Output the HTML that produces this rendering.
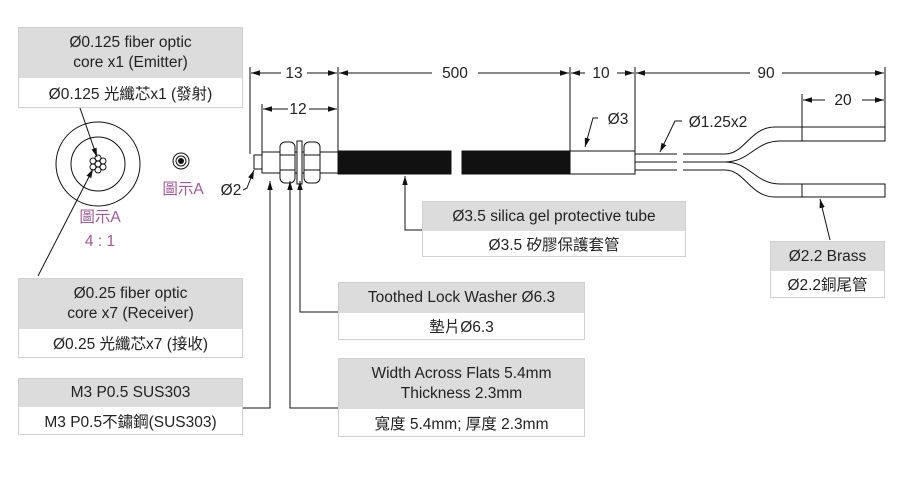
<!DOCTYPE html>
<html><head><meta charset="utf-8"><style>
body{margin:0;background:#fff;}
svg text{font-family:"Liberation Sans","Noto Sans CJK TC",sans-serif;fill:#222;}
.b{position:absolute;border:1px solid #d0d0d0;font-family:"Liberation Sans","Noto Sans CJK TC",sans-serif;font-size:15.5px;color:#222;text-align:center;box-sizing:border-box;overflow:hidden;}
.g{background:#dcdcdc;display:flex;flex-direction:column;justify-content:center;line-height:20px;}
.w{background:#fff;display:flex;align-items:center;justify-content:center;}
</style></head><body>
<div style="position:relative;width:900px;height:491px;overflow:hidden;">
<svg width="900" height="491" style="position:absolute;left:0;top:0">
<defs><marker id="a" viewBox="0 0 10 10" refX="10" refY="5" markerWidth="9" markerHeight="9" orient="auto-start-reverse"><path d="M0,2 L10,5 L0,8z" fill="#111"/></marker></defs>
<g stroke="#111" stroke-width="1" fill="none">
<line x1="250" y1="67" x2="250" y2="154"/><line x1="338" y1="67" x2="338" y2="151"/>
<line x1="570" y1="67" x2="570" y2="151"/><line x1="635" y1="67" x2="635" y2="151"/>
<line x1="885" y1="67" x2="885" y2="127"/><line x1="802" y1="94" x2="802" y2="127"/>
<line x1="262" y1="104" x2="262" y2="152"/>
<line x1="251" y1="73" x2="281" y2="73" marker-start="url(#a)"/><line x1="307" y1="73" x2="337" y2="73" marker-end="url(#a)"/>
<line x1="339" y1="73" x2="432" y2="73" marker-start="url(#a)"/><line x1="478" y1="73" x2="569" y2="73" marker-end="url(#a)"/>
<line x1="571" y1="73" x2="585" y2="73" marker-start="url(#a)"/><line x1="617" y1="73" x2="634" y2="73" marker-end="url(#a)"/>
<line x1="636" y1="73" x2="750" y2="73" marker-start="url(#a)"/><line x1="782" y1="73" x2="884" y2="73" marker-end="url(#a)"/>
<line x1="263" y1="109" x2="288" y2="109" marker-start="url(#a)"/><line x1="309" y1="109" x2="337" y2="109" marker-end="url(#a)"/>
<line x1="803" y1="100" x2="825" y2="100" marker-start="url(#a)"/><line x1="862" y1="100" x2="884" y2="100" marker-end="url(#a)"/>
<rect x="254" y="155" width="8" height="14"/>
<rect x="262" y="152" width="76" height="21"/>
<rect x="280" y="142" width="15" height="41" rx="5" fill="#fff"/>
<path d="M280,155 H295 M280,170 H295"/>
<rect x="297" y="141" width="5" height="43" fill="#fff"/>
<rect x="304" y="142" width="16" height="41" rx="5" fill="#fff"/>
<path d="M304,155 H320 M304,170 H320"/>
<rect x="338" y="151" width="113" height="23" fill="#111"/>
<rect x="462" y="151" width="108" height="23" fill="#111"/>
<rect x="570" y="151" width="65" height="23"/>
<path d="M635,154 H677 M635,162 H677 M635,170 H677 M683,154 H725 M683,162 H725 M683,170 H725"/>
<path d="M725,154 C745,154 750,127 775,127 H802 M725,162 C750,162 755,141 780,141 H802"/>
<path d="M725,170 C745,170 750,197 775,197 H802 M725,162 C750,162 755,184 780,184 H802"/>
<rect x="802" y="127" width="83" height="14"/><rect x="802" y="184" width="83" height="13"/>
<path d="M598,118 L593,118 L585,147" marker-end="url(#a)"/>
<path d="M682,121 L675,121 L660,152" marker-end="url(#a)"/>
<path d="M243,190 L247,188 Q250,180 254,170" marker-end="url(#a)"/>
<path d="M243,408 H270 V181" marker-end="url(#a)"/>
<path d="M338,408 H290 V181" marker-end="url(#a)"/>
<path d="M338,312 H300 V181" marker-end="url(#a)"/>
<path d="M422,230 H405 V176" marker-end="url(#a)"/>
<path d="M830,240 L820,199" marker-end="url(#a)"/>
<path d="M80,108 L97,157" marker-end="url(#a)"/>
<path d="M38,276 L93,169" marker-end="url(#a)"/>
<circle cx="98" cy="164" r="42"/><circle cx="98" cy="164" r="27"/>
<circle cx="98" cy="164" r="3"/><circle cx="98" cy="158" r="3"/><circle cx="98" cy="170" r="3"/>
<circle cx="93" cy="161" r="3"/><circle cx="103" cy="161" r="3"/><circle cx="93" cy="167" r="3"/><circle cx="103" cy="167" r="3"/>
<circle cx="181" cy="161" r="8"/><circle cx="181" cy="161" r="5"/>
</g>
<circle cx="181" cy="161" r="3" fill="#111"/>
<g font-size="15.5" text-anchor="middle">
<text x="294" y="78">13</text><text x="455" y="78">500</text><text x="601" y="78">10</text><text x="766" y="78">90</text>
<text x="298" y="114">12</text><text x="843" y="105">20</text>
<text x="618" y="124">Ø3</text><text x="718" y="127">Ø1.25x2</text><text x="231" y="195">Ø2</text>
<text x="183" y="194" style="fill:#a05a9a">圖示A</text>
<text x="100" y="222" style="fill:#a05a9a">圖示A</text><text x="100" y="246" style="fill:#a05a9a">4 : 1</text>
</g>
</svg>
<div class="b" style="left:18px;top:27px;width:225px;height:81px"><div class="g" style="height:50px">Ø0.125 fiber optic<br>core x1 (Emitter)</div><div class="w" style="height:29px">Ø0.125 光纖芯x1 (發射)</div></div>
<div class="b" style="left:18px;top:278px;width:225px;height:80px"><div class="g" style="height:50px">Ø0.25 fiber optic<br>core x7 (Receiver)</div><div class="w" style="height:28px">Ø0.25 光纖芯x7 (接收)</div></div>
<div class="b" style="left:18px;top:378px;width:225px;height:57px"><div class="g" style="height:28px">M3 P0.5 SUS303</div><div class="w" style="height:27px">M3 P0.5不鏽鋼(SUS303)</div></div>
<div class="b" style="left:338px;top:282px;width:247px;height:58px"><div class="g" style="height:30px">Toothed Lock Washer Ø6.3</div><div class="w" style="height:26px">墊片Ø6.3</div></div>
<div class="b" style="left:338px;top:358px;width:247px;height:79px"><div class="g" style="height:50px">Width Across Flats 5.4mm<br>Thickness 2.3mm</div><div class="w" style="height:27px">寬度 5.4mm; 厚度 2.3mm</div></div>
<div class="b" style="left:422px;top:201px;width:264px;height:56px"><div class="g" style="height:29px">Ø3.5 silica gel protective tube</div><div class="w" style="height:25px">Ø3.5 矽膠保護套管</div></div>
<div class="b" style="left:770px;top:241px;width:115px;height:57px"><div class="g" style="height:29px">Ø2.2 Brass</div><div class="w" style="height:26px">Ø2.2銅尾管</div></div>
</div>
</body></html>
